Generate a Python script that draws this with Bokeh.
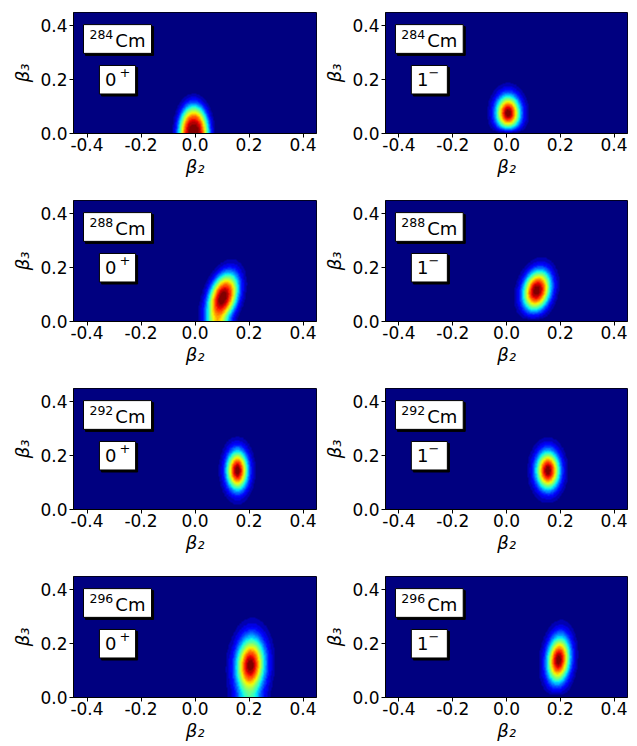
import numpy as np
from bokeh.plotting import figure
from bokeh.layouts import column, row
from bokeh.models import (Label, BoxAnnotation, LinearColorMapper, FixedTicker,
                          NumeralTickFormatter, Range1d)
from bokeh.embed import file_html
from bokeh.resources import INLINE

# ---------------- data ----------------
mass_numbers = ["284", "284", "288", "288", "292", "292", "296", "296"]
spin_labels = ["0", "1", "0", "1", "0", "1", "0", "1"]
parity_labels = ["+", "\u2212", "+", "\u2212", "+", "\u2212", "+", "\u2212"]
parity_sign = [1, -1, 1, -1, 1, -1, 1, -1]          # symmetric / antisymmetric in beta3
beta2_center = [-0.005, 0.006, 0.104, 0.113, 0.157, 0.154, 0.206, 0.194]
beta3_center = [0.000, 0.075, 0.089, 0.115, 0.145, 0.145, 0.120, 0.140]
width_major = [0.080, 0.045, 0.068, 0.054, 0.050, 0.049, 0.070, 0.059]   # along tilted beta3 axis
width_minor = [0.043, 0.031, 0.037, 0.035, 0.027, 0.030, 0.036, 0.029]   # across
tilt_deg = [0.0, 0.0, 18.0, 14.0, 0.0, 0.0, 3.0, 5.0]
shape_exp = [3.0, 2.0, 2.4, 2.2, 2.0, 2.0, 2.0, 2.0]

x_ticks = [-0.4, -0.2, 0.0, 0.2, 0.4]
y_ticks = [0.0, 0.2, 0.4]
beta2_range = (-0.45, 0.45)
beta3_range = (0.0, 0.45)
n_levels = 24

# ---------------- helpers ----------------
def jet(t):
    r = np.interp(t, [0, 0.35, 0.66, 0.89, 1], [0, 0, 1, 1, 0.5])
    g = np.interp(t, [0, 0.125, 0.375, 0.64, 0.91, 1], [0, 0, 1, 1, 0, 0])
    b = np.interp(t, [0, 0.11, 0.34, 0.65, 1], [0.5, 1, 1, 0, 0])
    return "#%02x%02x%02x" % (int(round(r * 255)), int(round(g * 255)), int(round(b * 255)))

palette = [jet(i / (n_levels - 1)) for i in range(n_levels)]

b2 = np.linspace(beta2_range[0], beta2_range[1], 361)
b3 = np.linspace(beta3_range[0], beta3_range[1], 181)
B2, B3 = np.meshgrid(b2, b3)

def lobe(X, Y, c2, c3, su, sv, th, m):
    dx = X - c2
    dy = Y - c3
    u = dx * np.sin(th) + dy * np.cos(th)
    v = dx * np.cos(th) - dy * np.sin(th)
    q = (u / su) ** 2 + (v / sv) ** 2
    return np.exp(-0.5 * q ** (m / 2.0))

def density(i):
    th = np.radians(tilt_deg[i])
    args = (beta2_center[i], beta3_center[i], width_major[i], width_minor[i], th, shape_exp[i])
    f = lobe(B2, B3, *args) + parity_sign[i] * lobe(B2, -B3, *args)
    f = np.clip(f, 0, None)
    return f / f.max()

FONT = "DejaVu Sans"

def make_panel(i, left_col, first_row, last_row):
    p = figure(
        frame_width=243 if left_col else 242, frame_height=121,
        x_range=Range1d(*beta2_range), y_range=Range1d(*beta3_range),
        toolbar_location=None, output_backend="svg",
        min_border_left=73 if left_col else 67, min_border_right=2,
        min_border_top=12 if first_row else 4,
        min_border_bottom=48 if last_row else 63,
    )
    p.grid.visible = False
    p.outline_line_color = "black"
    p.background_fill_color = "white"
    p.border_fill_color = "white"

    mapper = LinearColorMapper(palette=palette, low=0.0, high=1.0)
    p.image(image=[density(i)], x=beta2_range[0], y=beta3_range[0],
            dw=beta2_range[1] - beta2_range[0], dh=beta3_range[1] - beta3_range[0],
            color_mapper=mapper)

    for ax in (p.xaxis[0], p.yaxis[0]):
        ax.major_label_text_font = FONT
        ax.major_label_text_font_size = "17px"
        ax.major_label_text_color = "black"
        ax.axis_label_text_font = FONT
        ax.axis_label_text_font_size = "18px"
        ax.axis_label_text_font_style = "italic"
        ax.axis_label_text_color = "black"
        ax.minor_tick_line_color = None
        ax.major_tick_in = 0
        ax.major_tick_out = 4
        ax.major_tick_line_color = "black"
        ax.axis_line_color = "black"
        ax.formatter = NumeralTickFormatter(format="0.0")
    p.xaxis.ticker = FixedTicker(ticks=x_ticks)
    p.yaxis.ticker = FixedTicker(ticks=y_ticks)
    p.xaxis.axis_label = "\u03b2\u2082"
    p.yaxis.axis_label = "\u03b2\u2083"
    p.xaxis.major_label_standoff = 0
    p.xaxis.axis_label_standoff = 2
    p.yaxis.major_label_standoff = 2
    p.yaxis.axis_label_standoff = 4

    sh = 0.0075
    # nucleus box
    p.add_layout(BoxAnnotation(left=-0.413 + sh, right=-0.161 + sh, bottom=0.298 - sh, top=0.405 - sh,
                               fill_color="black", fill_alpha=1, line_color="black", line_alpha=1))
    p.add_layout(BoxAnnotation(left=-0.413, right=-0.161, bottom=0.298, top=0.405,
                               fill_color="white", fill_alpha=1, line_color="black",
                               line_alpha=1, line_width=1))
    # state box
    p.add_layout(BoxAnnotation(left=-0.354 + sh, right=-0.220 + sh, bottom=0.147 - sh, top=0.253 - sh,
                               fill_color="black", fill_alpha=1, line_color="black", line_alpha=1))
    p.add_layout(BoxAnnotation(left=-0.354, right=-0.220, bottom=0.147, top=0.253,
                               fill_color="white", fill_alpha=1, line_color="black",
                               line_alpha=1, line_width=1))

    p.add_layout(Label(x=-0.391, y=0.370, text=mass_numbers[i], text_font=FONT,
                       text_font_size="12.5px", text_color="black", text_baseline="middle"))
    p.add_layout(Label(x=-0.295, y=0.347, text="Cm", text_font=FONT,
                       text_font_size="18px", text_color="black", text_baseline="middle"))
    p.add_layout(Label(x=-0.333, y=0.202, text=spin_labels[i], text_font=FONT,
                       text_font_size="18px", text_color="black", text_baseline="middle"))
    p.add_layout(Label(x=-0.280 if parity_sign[i] > 0 else -0.290, y=0.228, text=parity_labels[i],
                       text_font=FONT, text_font_size="13px", text_color="black",
                       text_baseline="middle"))
    return p

rows = []
for r in range(4):
    rows.append(row(make_panel(2 * r, True, r == 0, r == 3),
                    make_panel(2 * r + 1, False, r == 0, r == 3)))
layout = column(*rows)

open("out.html", "w").write(file_html(layout, INLINE))
